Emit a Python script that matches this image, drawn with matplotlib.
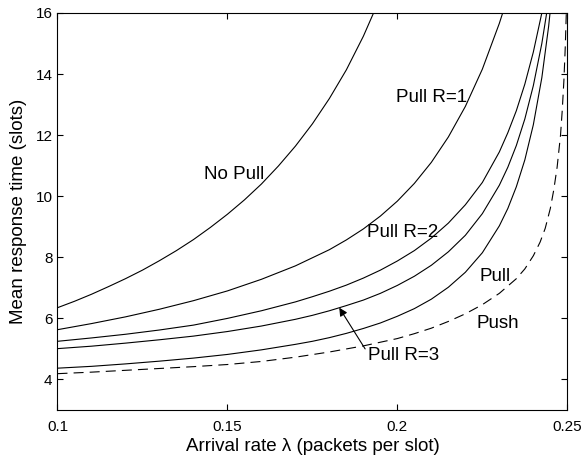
import numpy as np
import matplotlib
matplotlib.use('Agg')
import matplotlib.pyplot as plt

plt.rcParams['font.family'] = ['Liberation Sans', 'DejaVu Sans']

# values (x = arrival rate, y = mean response time)
lam_np = [0.100, 0.105, 0.110, 0.115, 0.120, 0.125, 0.130, 0.135, 0.140, 0.145,
          0.150, 0.155, 0.160, 0.165, 0.170, 0.175, 0.180, 0.185, 0.190, 0.195]
no_pull = [6.35, 6.56, 6.79, 7.04, 7.30, 7.58, 7.89, 8.22, 8.58, 8.98,
           9.41, 9.88, 10.40, 10.99, 11.64, 12.37, 13.20, 14.14, 15.24, 16.51]

lam_r1 = [0.10, 0.11, 0.12, 0.13, 0.14, 0.15, 0.16, 0.17, 0.18, 0.185, 0.19, 0.195,
          0.20, 0.205, 0.21, 0.215, 0.22, 0.225, 0.23, 0.233]
pull_r1 = [5.63, 5.83, 6.05, 6.30, 6.58, 6.90, 7.28, 7.72, 8.25, 8.57, 8.93, 9.35,
           9.84, 10.42, 11.11, 11.94, 12.94, 14.16, 15.66, 16.7]

lam_r2 = [0.10, 0.11, 0.12, 0.13, 0.14, 0.15, 0.16, 0.17, 0.175, 0.18, 0.185, 0.19,
          0.195, 0.20, 0.205, 0.21, 0.215, 0.22, 0.225, 0.23, 0.2325, 0.235, 0.2375,
          0.24, 0.2425, 0.2435]
pull_r2 = [5.25, 5.36, 5.48, 5.62, 5.78, 6.00, 6.25, 6.54, 6.71, 6.89, 7.09, 7.32,
           7.58, 7.88, 8.22, 8.63, 9.12, 9.72, 10.45, 11.45, 12.08, 12.80, 13.67,
           14.72, 16.0, 16.6]

lam_r3 = [0.10, 0.11, 0.12, 0.13, 0.14, 0.15, 0.16, 0.17, 0.175, 0.18, 0.185, 0.19,
          0.195, 0.20, 0.205, 0.21, 0.215, 0.22, 0.225, 0.23, 0.2325, 0.235, 0.2375,
          0.24, 0.2425, 0.2445]
pull_r3 = [5.01, 5.09, 5.19, 5.30, 5.42, 5.57, 5.75, 5.97, 6.10, 6.25, 6.42, 6.60,
           6.82, 7.08, 7.38, 7.74, 8.18, 8.72, 9.43, 10.36, 10.95, 11.66, 12.53,
           13.62, 15.0, 16.4]

lam_pl = [0.10, 0.11, 0.12, 0.13, 0.14, 0.15, 0.16, 0.17, 0.175, 0.18, 0.185, 0.19,
          0.195, 0.20, 0.205, 0.21, 0.215, 0.22, 0.225, 0.23, 0.2325, 0.235, 0.2375,
          0.24, 0.2425, 0.2445, 0.2455]
pull = [4.37, 4.43, 4.51, 4.60, 4.70, 4.82, 4.97, 5.15, 5.25, 5.37, 5.51, 5.67,
        5.85, 6.07, 6.32, 6.63, 7.02, 7.51, 8.15, 9.03, 9.60, 10.31, 11.19,
        12.34, 13.88, 15.56, 16.62]

lam_ps = [0.10, 0.11, 0.12, 0.13, 0.14, 0.15, 0.16, 0.17, 0.18, 0.19, 0.20, 0.205,
          0.21, 0.215, 0.22, 0.225, 0.23, 0.235, 0.2375, 0.24, 0.242, 0.2435, 0.245,
          0.246, 0.247, 0.248, 0.2485, 0.249, 0.2494, 0.2497]
push = [4.19, 4.24, 4.30, 4.36, 4.42, 4.49, 4.59, 4.73, 4.90, 5.10, 5.34, 5.50,
        5.68, 5.90, 6.15, 6.45, 6.82, 7.30, 7.62, 8.05, 8.50, 8.95, 9.60,
        10.2, 10.95, 12.0, 12.8, 13.8, 14.9, 16.0]

xticks = [0.1, 0.15, 0.2, 0.25]
xticklabels = ['0.1', '0.15', '0.2', '0.25']
yticks = [4, 6, 8, 10, 12, 14, 16]

fig = plt.figure(figsize=(5.83, 4.57), dpi=100)
ax = fig.add_axes([0.0986, 0.1028, 0.8745, 0.8688])

lw = 0.8
ax.plot(lam_np, no_pull, 'k-', lw=lw)
ax.plot(lam_r1, pull_r1, 'k-', lw=lw)
ax.plot(lam_r2, pull_r2, 'k-', lw=lw)
ax.plot(lam_r3, pull_r3, 'k-', lw=lw)
ax.plot(lam_pl, pull, 'k-', lw=lw)
ax.plot(lam_ps, push, 'k--', lw=lw, dashes=(9, 5.5))

fs = 13.5
ax.text(0.1521, 10.70, 'No Pull', fontsize=fs, ha='center', va='center')
ax.text(0.2102, 13.23, 'Pull R=1', fontsize=fs, ha='center', va='center')
ax.text(0.2014, 8.82, 'Pull R=2', fontsize=fs, ha='center', va='center')
ax.text(0.2288, 7.38, 'Pull', fontsize=fs, ha='center', va='center')
ax.text(0.2295, 5.84, 'Push', fontsize=fs, ha='center', va='center')
ax.annotate('Pull R=3', xy=(0.1829, 6.35), xytext=(0.2018, 4.80),
            fontsize=fs, ha='center', va='center',
            arrowprops=dict(arrowstyle='-|>', color='k', lw=0.8,
                            shrinkA=0, shrinkB=0, mutation_scale=12,
                            relpos=(0.0, 0.6)))

ax.set_xlim(0.1, 0.25)
ax.set_ylim(3, 16)
ax.set_xticks(xticks)
ax.set_xticklabels(xticklabels)
ax.set_yticks(yticks)
ax.tick_params(direction='in', top=True, right=True, labelsize=11, length=4, width=0.8)
ax.tick_params(axis='x', pad=7)
for s in ax.spines.values():
    s.set_linewidth(0.8)
ax.set_xlabel('Arrival rate λ (packets per slot)', fontsize=13.5, labelpad=3)
ax.set_ylabel('Mean response time (slots)', fontsize=13.5, labelpad=6)

fig.savefig('out.png', dpi=100)
